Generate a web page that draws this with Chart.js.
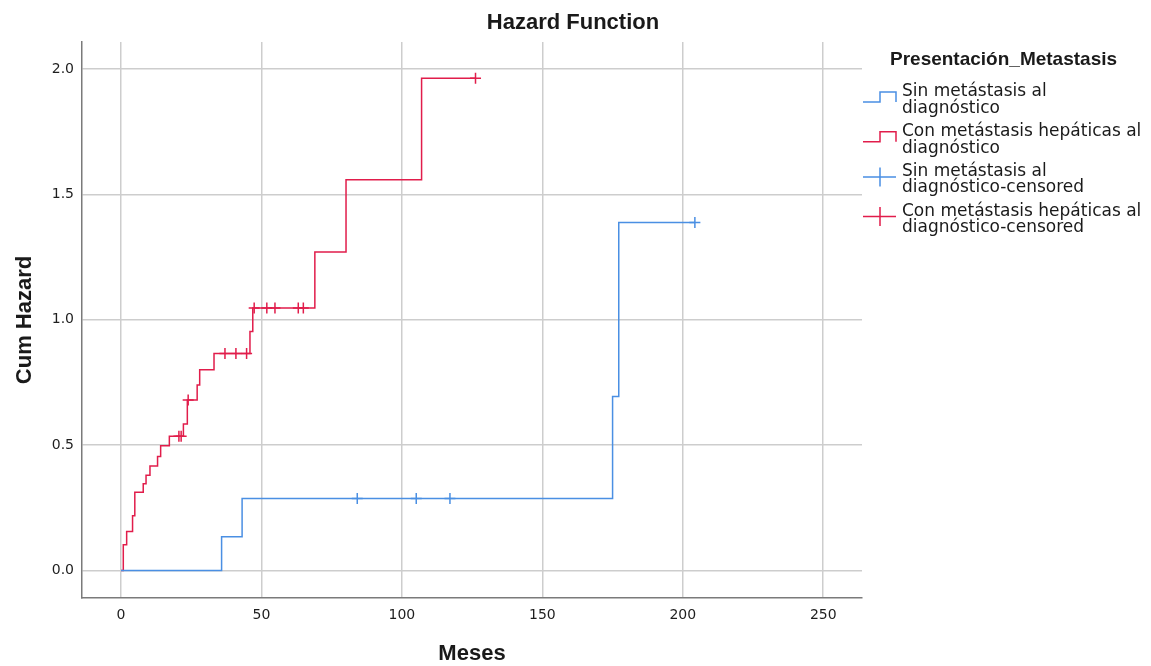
<!DOCTYPE html>
<html>
<head>
<meta charset="utf-8">
<script src="https://cdn.jsdelivr.net/npm/chart.js@4"></script>
<style>
  html, body { margin: 0; padding: 0; background: #fff; }
</style>
</head>
<body>
<canvas id="chartHazard" width="1151" height="666"></canvas>
<script>
// Riesgo acumulado por grupo (meses, hazard tras cada evento)
const sinTiempos = [0, 35.8, 43.1, 175.0, 177.2, 204.3];
const sinHazard  = [0, 0.134, 0.287, 0.694, 1.388, 1.388];
const sinCensTiempos = [84.1, 105.1, 117.1, 204.3];
const sinCensHazard  = [0.287, 0.287, 0.287, 1.388];

const conTiempos = [0, 0.8, 2.0, 4.1, 4.9, 7.9, 8.9, 10.3, 13.0, 14.1, 17.2, 22.2, 23.6,
                    27.1, 28.0, 33.1, 45.9, 46.9, 69.0, 80.1, 107.0, 126.2];
const conHazard  = [0, 0.102, 0.155, 0.218, 0.312, 0.346, 0.380, 0.417, 0.454, 0.497, 0.535, 0.584, 0.680,
                    0.740, 0.801, 0.865, 0.953, 1.047, 1.270, 1.558, 1.963, 1.963];
const conCensTiempos = [20.6, 21.4, 23.9, 37.0, 40.9, 44.7, 47.4, 51.9, 54.8, 63.1, 64.9, 126.2];
const conCensHazard  = [0.535, 0.535, 0.680, 0.865, 0.865, 0.865, 1.047, 1.047, 1.047, 1.047, 1.047, 1.963];

const xTicks = [0, 50, 100, 150, 200, 250];
const yTicks = [0, 0.5, 1.0, 1.5, 2.0];

const tituloGrafico = 'Hazard Function';
const tituloLeyenda = 'Presentación_Metastasis';
const textosLeyenda = [
    ['Sin metástasis al', 'diagnóstico'],
    ['Con metástasis hepáticas al', 'diagnóstico'],
    ['Sin metástasis al', 'diagnóstico-censored'],
    ['Con metástasis hepáticas al', 'diagnóstico-censored']
];

const azul = '#4a8fe3';
const rojo = '#e11d4b';
const fuenteNegrita = '"Liberation Sans", Arial, sans-serif';
const fuenteNormal  = '"DejaVu Sans", sans-serif';

function pares(xs, ys) {
    return xs.map(function (x, i) { return { x: x, y: ys[i] }; });
}

// ── Título y leyenda al estilo SPSS ──
const tituloYLeyenda = {
    id: 'tituloYLeyenda',
    afterDraw: function (chart) {
        var ctx = chart.ctx;
        ctx.save();
        ctx.fillStyle = '#1a1a1a';
        ctx.textBaseline = 'middle';

        ctx.font = 'bold 22px ' + fuenteNegrita;
        ctx.textAlign = 'center';
        ctx.fillText(tituloGrafico, 573, 23);

        ctx.textAlign = 'left';
        ctx.font = 'bold 19px ' + fuenteNegrita;
        ctx.fillText(tituloLeyenda, 890, 60);

        ctx.font = '17px ' + fuenteNormal;
        chart.data.datasets.forEach(function (ds, i) {
            var y0 = 92 + i * 39.7;
            ctx.strokeStyle = ds.borderColor;
            ctx.lineWidth = 1.5;
            ctx.beginPath();
            if (ds.pointStyle === 'cross') {
                ctx.moveTo(863, y0 + 5.5); ctx.lineTo(896, y0 + 5.5);
                ctx.moveTo(880, y0 - 4);   ctx.lineTo(880, y0 + 15);
            } else {
                ctx.moveTo(863, y0 + 10); ctx.lineTo(880, y0 + 10);
                ctx.lineTo(880, y0);      ctx.lineTo(896, y0);
                ctx.lineTo(896, y0 + 10);
            }
            ctx.stroke();
            ctx.fillStyle = '#1a1a1a';
            textosLeyenda[i].forEach(function (linea, j) {
                ctx.fillText(linea, 902, y0 + j * 16.5);
            });
        });
        ctx.restore();
    }
};

const gridComun = { color: '#cdcdcd', lineWidth: 1.5, drawTicks: false };
const bordeComun = { color: '#7a7a7a', width: 1.5 };

new Chart(document.getElementById('chartHazard'), {
    type: 'line',
    data: {
        datasets: [
            {
                label: textosLeyenda[0].join(' '),
                data: pares(sinTiempos, sinHazard),
                borderColor: azul, borderWidth: 1.5,
                stepped: 'before', pointRadius: 0, fill: false
            },
            {
                label: textosLeyenda[1].join(' '),
                data: pares(conTiempos, conHazard),
                borderColor: rojo, borderWidth: 1.5,
                stepped: 'before', pointRadius: 0, fill: false
            },
            {
                type: 'scatter',
                label: textosLeyenda[2].join(' '),
                data: pares(sinCensTiempos, sinCensHazard),
                borderColor: azul, backgroundColor: azul,
                pointStyle: 'cross', pointRadius: 5.5, borderWidth: 1.5, showLine: false
            },
            {
                type: 'scatter',
                label: textosLeyenda[3].join(' '),
                data: pares(conCensTiempos, conCensHazard),
                borderColor: rojo, backgroundColor: rojo,
                pointStyle: 'cross', pointRadius: 5.5, borderWidth: 1.5, showLine: false
            }
        ]
    },
    options: {
        responsive: false,
        animation: false,
        devicePixelRatio: 1,
        layout: { padding: { top: 42, right: 289, left: 0, bottom: 0 } },
        plugins: {
            legend: { display: false },
            tooltip: { enabled: false },
            title: { display: false }
        },
        scales: {
            x: {
                type: 'linear',
                min: -13.9, max: 263.8,
                afterFit: function (s) { s.height = 68; },
                afterBuildTicks: function (s) { s.ticks = xTicks.map(function (v) { return { value: v }; }); },
                grid: gridComun,
                border: bordeComun,
                ticks: { padding: 9, color: '#1e1e1e', font: { family: fuenteNormal, size: 14 } },
                title: {
                    display: true, text: 'Meses', color: '#1a1a1a',
                    font: { family: fuenteNegrita, size: 22, weight: 'bold', lineHeight: 1 },
                    padding: { top: 0, bottom: 1 }
                }
            },
            y: {
                type: 'linear',
                min: -0.110, max: 2.108,
                afterFit: function (s) { s.width = 82; },
                afterBuildTicks: function (s) { s.ticks = yTicks.map(function (v) { return { value: v }; }); },
                grid: gridComun,
                border: bordeComun,
                ticks: {
                    padding: 8, color: '#1e1e1e', font: { family: fuenteNormal, size: 14 },
                    callback: function (v) { return Number(v).toFixed(1); }
                },
                title: {
                    display: true, text: 'Cum Hazard', color: '#1a1a1a',
                    font: { family: fuenteNegrita, size: 22, weight: 'bold', lineHeight: 1.2 },
                    padding: { top: 12, bottom: 0 }
                }
            }
        }
    },
    plugins: [tituloYLeyenda]
});
</script>
</body>
</html>
